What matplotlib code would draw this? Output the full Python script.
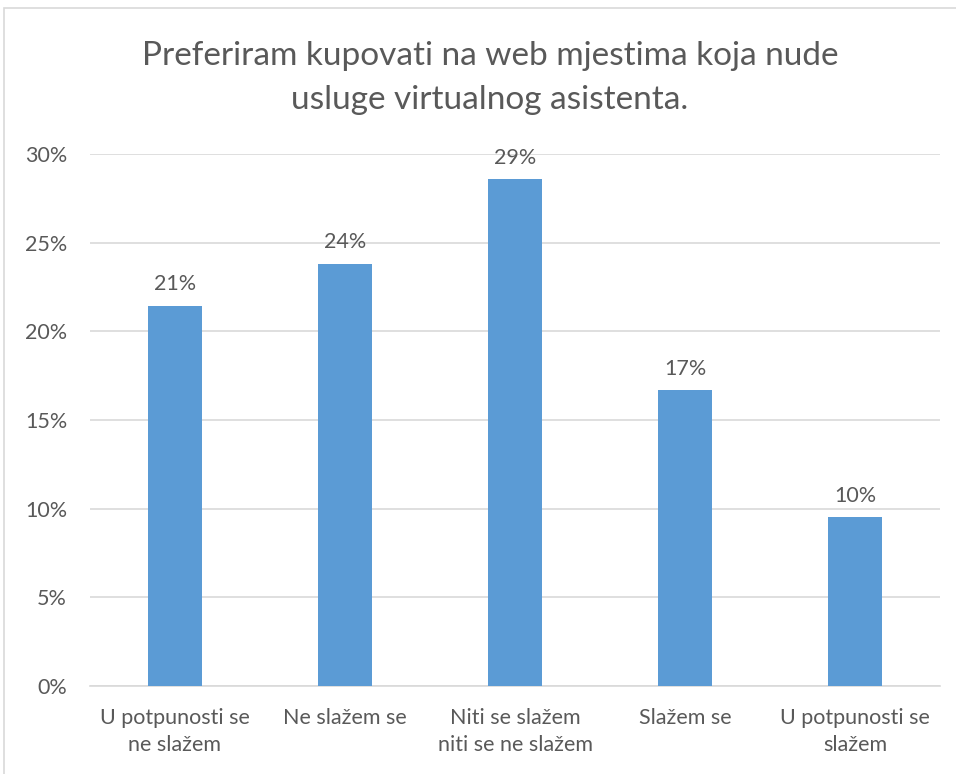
import matplotlib.pyplot as plt
from matplotlib.patches import Rectangle
from matplotlib.ticker import FuncFormatter

categories = ["U potpunosti se\nne slažem", "Ne slažem se", "Niti se slažem\nniti se ne slažem",
              "Slažem se", "U potpunosti se\nslažem"]
shares = [9/42, 10/42, 12/42, 7/42, 4/42]
title = "Preferiram kupovati na web mjestima koja nude\nusluge virtualnog asistenta."

text_col = "#595959"
plt.rcParams['font.family'] = ['Lato', 'DejaVu Sans']

fig = plt.figure(figsize=(9.56, 7.74), dpi=100)
# chart border
fig.patches.append(Rectangle((4/956, -0.1), 1.1, 1.1 - 8/774, transform=fig.transFigure,
                             fill=False, edgecolor="#d9d9d9", linewidth=1.2))

ax = fig.add_axes([90/956, 1 - 686/774, 850/956, 532/774])
x = range(len(categories))
ax.bar(x, shares, width=0.32, color="#5B9BD5", zorder=3)
for i, v in enumerate(shares):
    ax.text(i, v + 0.0065, f"{v:.0%}", ha="center", va="bottom", fontsize=15.5, color=text_col)

ax.set_xlim(-0.5, len(categories) - 0.5)
ax.set_ylim(0, 0.30)
ax.set_yticks([0, 0.05, 0.10, 0.15, 0.20, 0.25, 0.30])
ax.yaxis.set_major_formatter(FuncFormatter(lambda v, p: f"{v:.0%}"))
ax.set_xticks(list(x))
ax.set_xticklabels(categories, fontsize=15.5, color=text_col, linespacing=1.42)
ax.tick_params(axis='y', labelsize=15.5, labelcolor=text_col, length=0, pad=16.5)
ax.tick_params(axis='x', length=0, pad=16)
ax.grid(axis='y', color="#d9d9d9", linewidth=1.2, zorder=0)
for s in ["top", "right", "left"]:
    ax.spines[s].set_visible(False)
ax.spines["bottom"].set_color("#d9d9d9")
ax.spines["bottom"].set_linewidth(1.2)

fig.text(490/956, 1 - 78/774, title, ha="center", va="center", fontsize=24,
         color=text_col, linespacing=1.55)

fig.savefig("out.png", dpi=100)
